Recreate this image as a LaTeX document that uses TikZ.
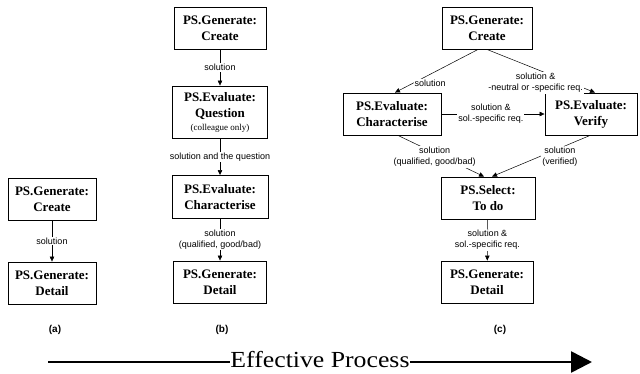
\documentclass[tikz,border=0pt]{standalone}
\usepackage{fontspec}
\setmainfont{Liberation Serif}
\setsansfont{Liberation Sans}
\usetikzlibrary{arrows.meta}

\begin{document}
\begin{tikzpicture}[x=1pt,y=-1pt,
  proc/.style={draw, line width=0.9pt, align=center,
    font=\bfseries\fontsize{13}{16}\selectfont,
    minimum height=42pt, inner sep=2pt},
  flow/.style={-{Triangle[length=5pt,width=4.5pt]}, line width=0.5pt},
  lab/.style={fill=white, font=\sffamily\fontsize{9}{11}\selectfont,
    align=center, inner sep=1pt},
  tag/.style={font=\sffamily\bfseries\fontsize{10}{12}\selectfont}]
\useasboundingbox (0,0) rectangle (640,373);

% (a) create then detail
\node[proc, minimum width=88pt] (a1) at (52,199) {PS.Generate:\\Create};
\node[proc, minimum width=88pt] (a2) at (52,283) {PS.Generate:\\Detail};
\draw[flow] (a1) -- node[lab]{solution} (a2);
\node[tag] (ta) at (55,330) {(a)};

% (b) create, question, characterise, detail
\node[proc, minimum width=92pt] (b1) at (220,28) {PS.Generate:\\Create};
\node[proc, minimum width=95pt, minimum height=52pt] (b2) at (220,112)
  {PS.Evaluate:\\Question\\[-3pt]{\normalfont\fontsize{9}{11}\selectfont(colleague only)}};
\node[proc, minimum width=96pt, minimum height=43pt] (b3) at (220,197) {PS.Evaluate:\\Characterise};
\node[proc, minimum width=93pt] (b4) at (220,282) {PS.Generate:\\Detail};
\draw[flow] (b1) -- node[lab]{solution} (b2);
\draw[flow] (b2) -- node[lab]{solution and the question} (b3);
\draw[flow] (b3) -- node[lab]{solution\\(qualified, good/bad)} (b4);
\node[tag] (tb) at (222,330) {(b)};

% (c) create, characterise / verify, select, detail
\node[proc, minimum width=90pt] (c1) at (487,28) {PS.Generate:\\Create};
\node[proc, minimum width=98pt] (c2) at (392,114) {PS.Evaluate:\\Characterise};
\node[proc, minimum width=92pt] (c3) at (591,114) {PS.Evaluate:\\Verify};
\node[proc, minimum width=94pt] (c4) at (488,198) {PS.Select:\\To do};
\node[proc, minimum width=92pt] (c5) at (487,282) {PS.Generate:\\Detail};
\draw[flow] ([xshift=-9pt]c1.south) -- node[lab, pos=0.6, xshift=2pt, yshift=-8pt]{solution} ([xshift=3pt]c2.north);
\draw[flow] ([xshift=0pt]c1.south) -- node[lab, pos=0.45, yshift=-14pt]{solution \&\\-neutral or -specific req.} ([xshift=4pt]c3.north);
\draw[flow] (c2.east) -- node[lab, pos=0.48]{solution \&\\sol.-specific req.} (c3.west);
\draw[flow] ([xshift=6pt]c2.south) -- node[lab, pos=0.45, xshift=-2pt, yshift=-3pt]{solution\\(qualified, good/bad)} ([xshift=-4pt]c4.north);
\draw[flow] ([xshift=-1pt]c3.south) -- node[lab, pos=0.4, xshift=9pt, yshift=-5pt]{solution\\(verified)} ([xshift=4pt]c4.north);
\draw[flow] (c4) -- node[lab]{solution \&\\sol.-specific req.} (c5);
\node[tag] (tc) at (500,330) {(c)};

% overall direction arrow
\coordinate (ps) at (48,362);
\coordinate (pe) at (592,362);
\draw[line width=2.6pt, -{Triangle[length=21pt,width=21pt]}] (ps) --
  node[pos=0.5, anchor=base, yshift=-5pt, fill=white, inner sep=0pt,
       font=\fontsize{23}{23}\selectfont] (ep) {\scalebox{1.12}[1]{Effective Process}} (pe);
\end{tikzpicture}
\end{document}
